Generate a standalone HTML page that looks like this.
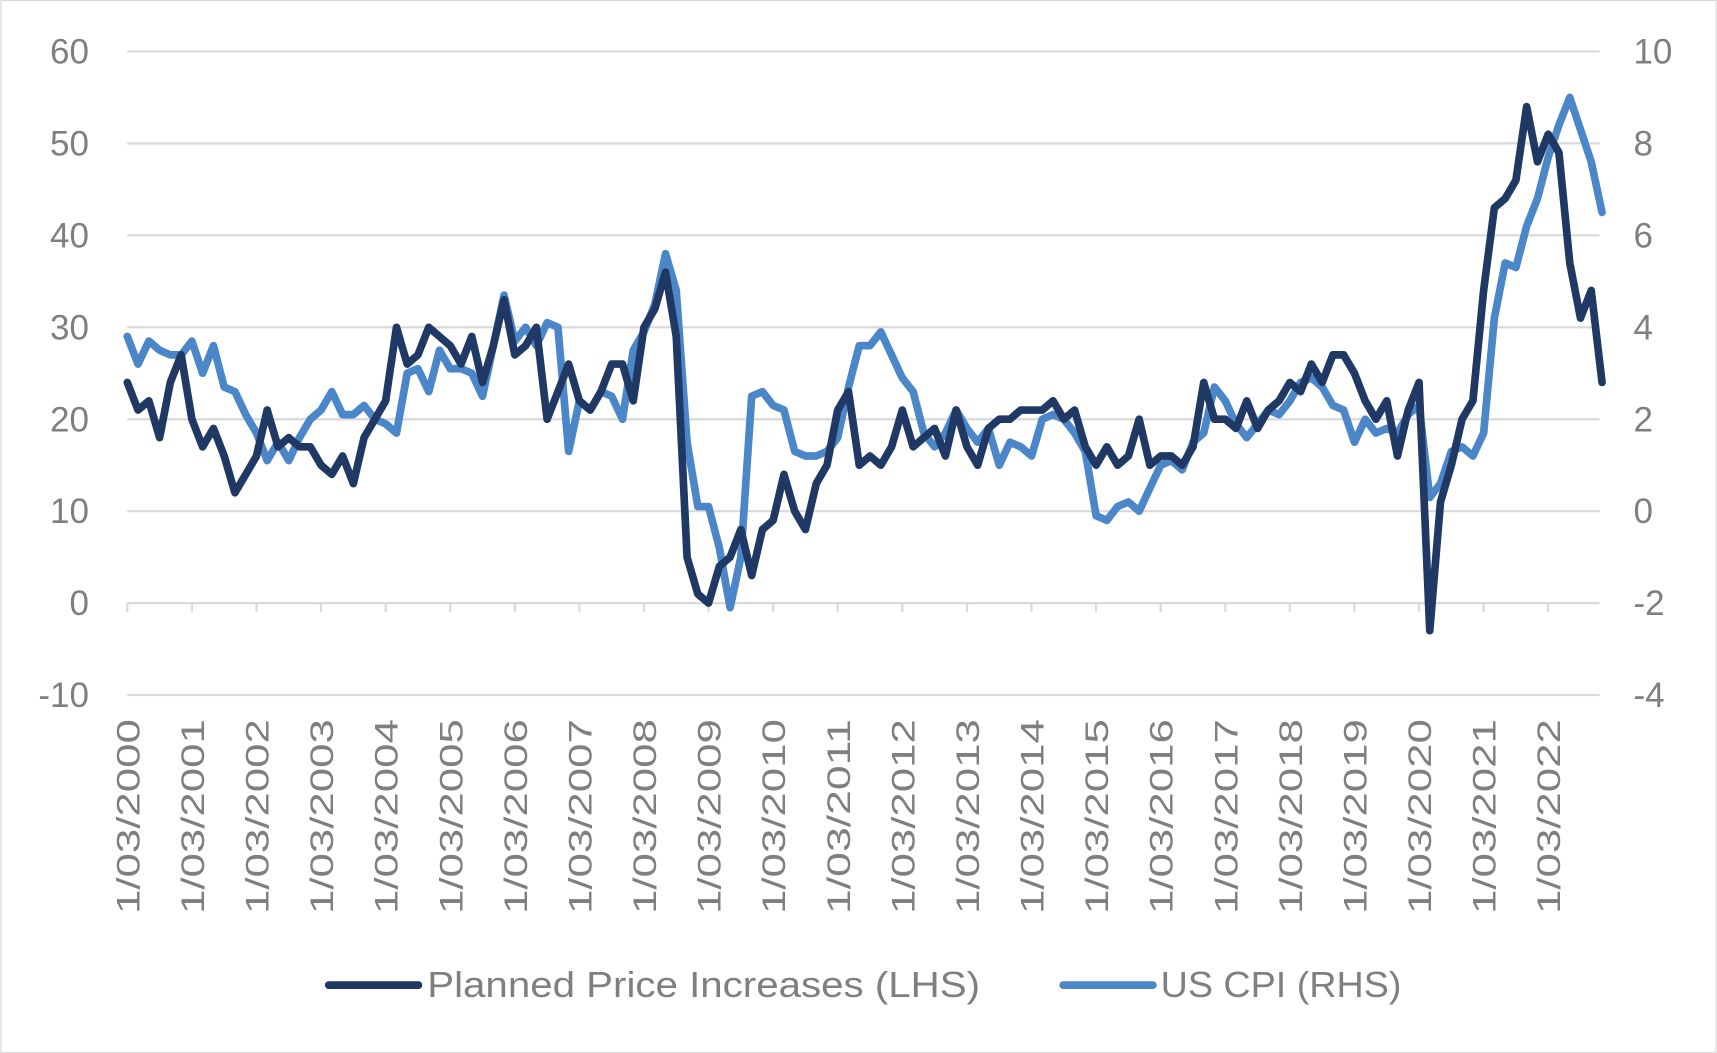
<!DOCTYPE html>
<html><head><meta charset="utf-8"><style>
html,body{margin:0;padding:0;background:#fff}
svg{display:block;font-family:"Liberation Sans",sans-serif}
</style></head><body>
<svg id="chart" width="1717" height="1053" viewBox="0 0 1568 962" xmlns="http://www.w3.org/2000/svg">
<rect x="0.5" y="0.5" width="1567" height="961" fill="#fff" stroke="#d9d9d9"/>
<g id="grid"></g>
<g id="yl"></g>
<g id="yr"></g>
<g id="xl"></g>
<g id="series"></g>
<g>
<line x1="300" y1="900" x2="382" y2="900" stroke="#1f3864" stroke-width="7" stroke-linecap="round"/>
<text x="390" y="911" font-size="33" fill="#7f7f7f" textLength="505" lengthAdjust="spacingAndGlyphs">Planned Price Increases (LHS)</text>
<line x1="971" y1="900" x2="1053" y2="900" stroke="#4a86c8" stroke-width="7" stroke-linecap="round"/>
<text x="1060" y="911" font-size="33" fill="#7f7f7f" textLength="220" lengthAdjust="spacingAndGlyphs">US CPI (RHS)</text>
</g>
</svg>
<script>
const leftTicks=[60,50,40,30,20,10,0,-10];
const rightTicks=[10,8,6,4,2,0,-2,-4];
const years=[2000,2001,2002,2003,2004,2005,2006,2007,2008,2009,2010,2011,2012,2013,2014,2015,2016,2017,2018,2019,2020,2021,2022];
const planned=[24,21,22,18,24,27, 20,17,19,16,12,14, 16,21,17,18,17,17, 15,14,16,13,18,20, 22,30,26,27,30,29, 28,26,29,24,28,33, 27,28,30,20,23,26, 22,21,23,26,26,22, 30,32,36,29,5,1, 0,4,5,8,3,8, 9,14,10,8,13,15, 21,23,15,16,15,17, 21,17,18,19,16,21, 17,15,19,20,20,21, 21,21,22,20,21,17, 15,17,15,16,20,15, 16,16,15,17,24,20, 20,19,22,19,21,22, 24,23,26,24,27,27, 25,22,20,22,16,21, 24,-3,11,15,20,22, 34,43,44,46,54,48, 51,49,37,31,34,24];
const cpi=[3.8,3.2,3.7,3.5,3.4,3.4, 3.7,3.0,3.6,2.7,2.6,2.1, 1.7,1.1,1.5,1.1,1.6,2.0, 2.2,2.6,2.1,2.1,2.3,2.0, 1.9,1.7,3.0,3.1,2.6,3.5, 3.1,3.1,3.0,2.5,3.6,4.7, 3.7,4.0,3.6,4.1,4.0,1.3, 2.4,2.2,2.6,2.5,2.0,3.5, 3.9,4.5,5.6,4.8,1.5,0.1, 0.1,-0.8,-2.1,-1.0,2.5,2.6, 2.3,2.2,1.3,1.2,1.2,1.3, 1.6,2.7,3.6,3.6,3.9,3.4, 2.9,2.6,1.7,1.4,1.7,2.2, 1.8,1.5,1.8,1.0,1.5,1.4, 1.2,2.0,2.1,2.0,1.7,1.3, -0.1,-0.2,0.1,0.2,0.0,0.5, 1.0,1.1,0.9,1.5,1.7,2.7, 2.4,1.9,1.6,1.9,2.2,2.1, 2.4,2.8,2.9,2.7,2.3,2.2, 1.5,2.0,1.7,1.8,1.7,2.1, 2.3,0.3,0.6,1.3,1.4,1.2, 1.7,4.2,5.4,5.3,6.2,6.8, 7.7,8.4,9.0,8.3,7.6,6.5];
const NS="http://www.w3.org/2000/svg";
const X0=116,PX_PER_MONTH=4.917;
const xM=m=>X0+m*PX_PER_MONTH;
const yL=v=>551-v*8.4;
const yR=v=>467-v*42;
const monthOf=i=>i*2;
function el(tag,attrs,parent){const e=document.createElementNS(NS,tag);for(const k in attrs)e.setAttribute(k,attrs[k]);parent.appendChild(e);return e;}
const grid=document.getElementById('grid'),yl=document.getElementById('yl'),yr=document.getElementById('yr'),xl=document.getElementById('xl'),ser=document.getElementById('series');
const X1=1461;
leftTicks.forEach(t=>{
  const y=yL(t);
  if(t!==0){const g=el('line',{x1:X0,x2:X1,y1:y,y2:y,stroke:'#d9d9d9','stroke-width':2},grid);
  
  }
  const tx=el('text',{x:81,y:y+11,'text-anchor':'end','font-size':32,fill:'#7f7f7f'},yl);tx.textContent=t;
  
  
});
rightTicks.forEach(t=>{
  const tx=el('text',{x:1492,y:yR(t)+11,'font-size':32,fill:'#7f7f7f'},yr);tx.textContent=t;
  
  
});
const ax=el('line',{x1:X0,x2:X1,y1:551,y2:551,stroke:'#d9d9d9','stroke-width':2},xl);


years.forEach((yr_,i)=>{
  const x=xM(i*12);
  const tk=el('line',{x1:x,x2:x,y1:551,y2:559,stroke:'#d9d9d9','stroke-width':2},xl);
  
  
  const tx=el('text',{x:0,y:0,'text-anchor':'end','font-size':30,fill:'#7f7f7f',textLength:178,lengthAdjust:'spacingAndGlyphs',transform:`translate(${x+11},657) rotate(-90)`},xl);
  tx.textContent='1/03/'+yr_;
  
  
});
function line(arr,yf,color,name){
  const d=arr.map((v,i)=>(i?'L':'M')+xM(monthOf(i)).toFixed(1)+' '+yf(v).toFixed(1)).join(' ');
  const p=el('path',{d,fill:'none',stroke:color,'stroke-width':7,'stroke-linejoin':'round','stroke-linecap':'round'},ser);
  
  
}
line(cpi,yR,'#4a86c8','us-cpi-line');
line(planned,yL,'#1f3864','planned-price-line');
</script>
</body></html>
